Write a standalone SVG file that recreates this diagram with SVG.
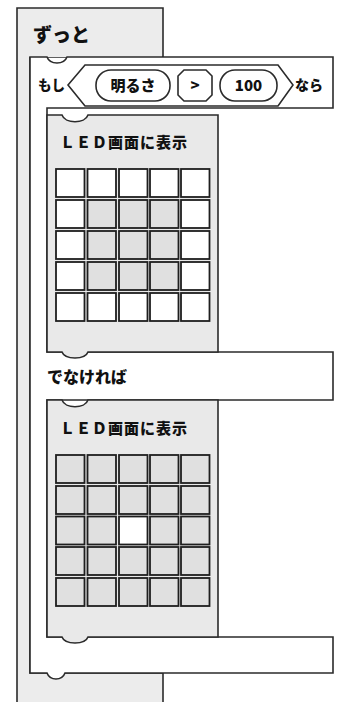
<svg xmlns="http://www.w3.org/2000/svg" width="340" height="702" viewBox="0 0 340 702">
<style>
.ln{stroke:#2b2b2b;stroke-width:1.6;stroke-linejoin:miter}
.t{font-family:"Noto Sans CJK JP","Noto Sans",sans-serif;font-weight:900;fill:#111}
.led{fill:#e9e9e9}
.on{fill:#ffffff}
.off{fill:#e0e0e0}
.cell{stroke:#1e1e1e;stroke-width:1.8}
</style>
<defs>
<rect id="c" width="28.5" height="28" class="cell"/>
</defs>
<rect width="340" height="702" fill="#fff"/>
<g id="forever">
<path class="ln" fill="#ececec" d="M17,8 H163 V57 H30 V673 H163 V706 H17 Z"/>
<path fill="#ececec" d="M18,9 H162 V57 H18 Z"/>
<text class="t" x="33" y="42" font-size="19">ずっと</text>
</g>
<g id="if">
<path class="ln" fill="#fff" d="M30,57 H47 C50,65 64,65 67,57 H333 V108 H47 V352 H333 V400 H47 V637 H333 V673 H65 C62,681 50,681 47,673 H30 Z"/>
<text class="t" x="38" y="90" font-size="13.5">もし</text>
<polygon class="ln" fill="#fff" points="68,85 85,65 278,65 293,85 278,106 85,106"/>
<rect class="ln" fill="#fff" x="96" y="70" width="74" height="31" rx="15"/>
<text class="t" x="133" y="91" font-size="15" text-anchor="middle">明るさ</text>
<path class="ln" fill="#fff" d="M184,70 H206 L212,76 V95 L206,101 H184 L178,95 V76 Z"/>
<text class="t" x="195" y="91" font-size="15" text-anchor="middle">&gt;</text>
<rect class="ln" fill="#fff" x="220" y="70" width="57" height="31" rx="15"/>
<text class="t" x="248.5" y="91" font-size="15" text-anchor="middle">100</text>
<text class="t" x="295" y="90" font-size="14">なら</text>
<text class="t" x="47" y="383" font-size="16">でなければ</text>
</g>
<g id="led1">
<path class="ln led" d="M47,115 H62 C65,124 85,124 88,115 H218 V352 H88 C85,360 65,360 62,352 H47 Z"/>
<text class="t" x="60" y="148" font-size="15" textLength="127">ＬＥＤ画面に表示</text>
<g>
<use href="#c" x="56" y="169" class="on"/><use href="#c" x="87.5" y="169" class="on"/><use href="#c" x="119" y="169" class="on"/><use href="#c" x="150" y="169" class="on"/><use href="#c" x="181" y="169" class="on"/>
<use href="#c" x="56" y="200" class="on"/><use href="#c" x="87.5" y="200" class="off"/><use href="#c" x="119" y="200" class="off"/><use href="#c" x="150" y="200" class="off"/><use href="#c" x="181" y="200" class="on"/>
<use href="#c" x="56" y="231" class="on"/><use href="#c" x="87.5" y="231" class="off"/><use href="#c" x="119" y="231" class="off"/><use href="#c" x="150" y="231" class="off"/><use href="#c" x="181" y="231" class="on"/>
<use href="#c" x="56" y="262" class="on"/><use href="#c" x="87.5" y="262" class="off"/><use href="#c" x="119" y="262" class="off"/><use href="#c" x="150" y="262" class="off"/><use href="#c" x="181" y="262" class="on"/>
<use href="#c" x="56" y="293" class="on"/><use href="#c" x="87.5" y="293" class="on"/><use href="#c" x="119" y="293" class="on"/><use href="#c" x="150" y="293" class="on"/><use href="#c" x="181" y="293" class="on"/>
</g>
</g>
<g id="led2">
<path class="ln led" d="M47,400 H62 C65,409 85,409 88,400 H218 V637 H88 C85,645 65,645 62,637 H47 Z"/>
<text class="t" x="60" y="434" font-size="15" textLength="127">ＬＥＤ画面に表示</text>
<g>
<use href="#c" x="56" y="455" class="off"/><use href="#c" x="87.5" y="455" class="off"/><use href="#c" x="119" y="455" class="off"/><use href="#c" x="150" y="455" class="off"/><use href="#c" x="181" y="455" class="off"/>
<use href="#c" x="56" y="486" class="off"/><use href="#c" x="87.5" y="486" class="off"/><use href="#c" x="119" y="486" class="off"/><use href="#c" x="150" y="486" class="off"/><use href="#c" x="181" y="486" class="off"/>
<use href="#c" x="56" y="516.5" class="off"/><use href="#c" x="87.5" y="516.5" class="off"/><use href="#c" x="119" y="516.5" class="on"/><use href="#c" x="150" y="516.5" class="off"/><use href="#c" x="181" y="516.5" class="off"/>
<use href="#c" x="56" y="547" class="off"/><use href="#c" x="87.5" y="547" class="off"/><use href="#c" x="119" y="547" class="off"/><use href="#c" x="150" y="547" class="off"/><use href="#c" x="181" y="547" class="off"/>
<use href="#c" x="56" y="578" class="off"/><use href="#c" x="87.5" y="578" class="off"/><use href="#c" x="119" y="578" class="off"/><use href="#c" x="150" y="578" class="off"/><use href="#c" x="181" y="578" class="off"/>
</g>
</g>
<g id="connectors"></g>
</svg>
